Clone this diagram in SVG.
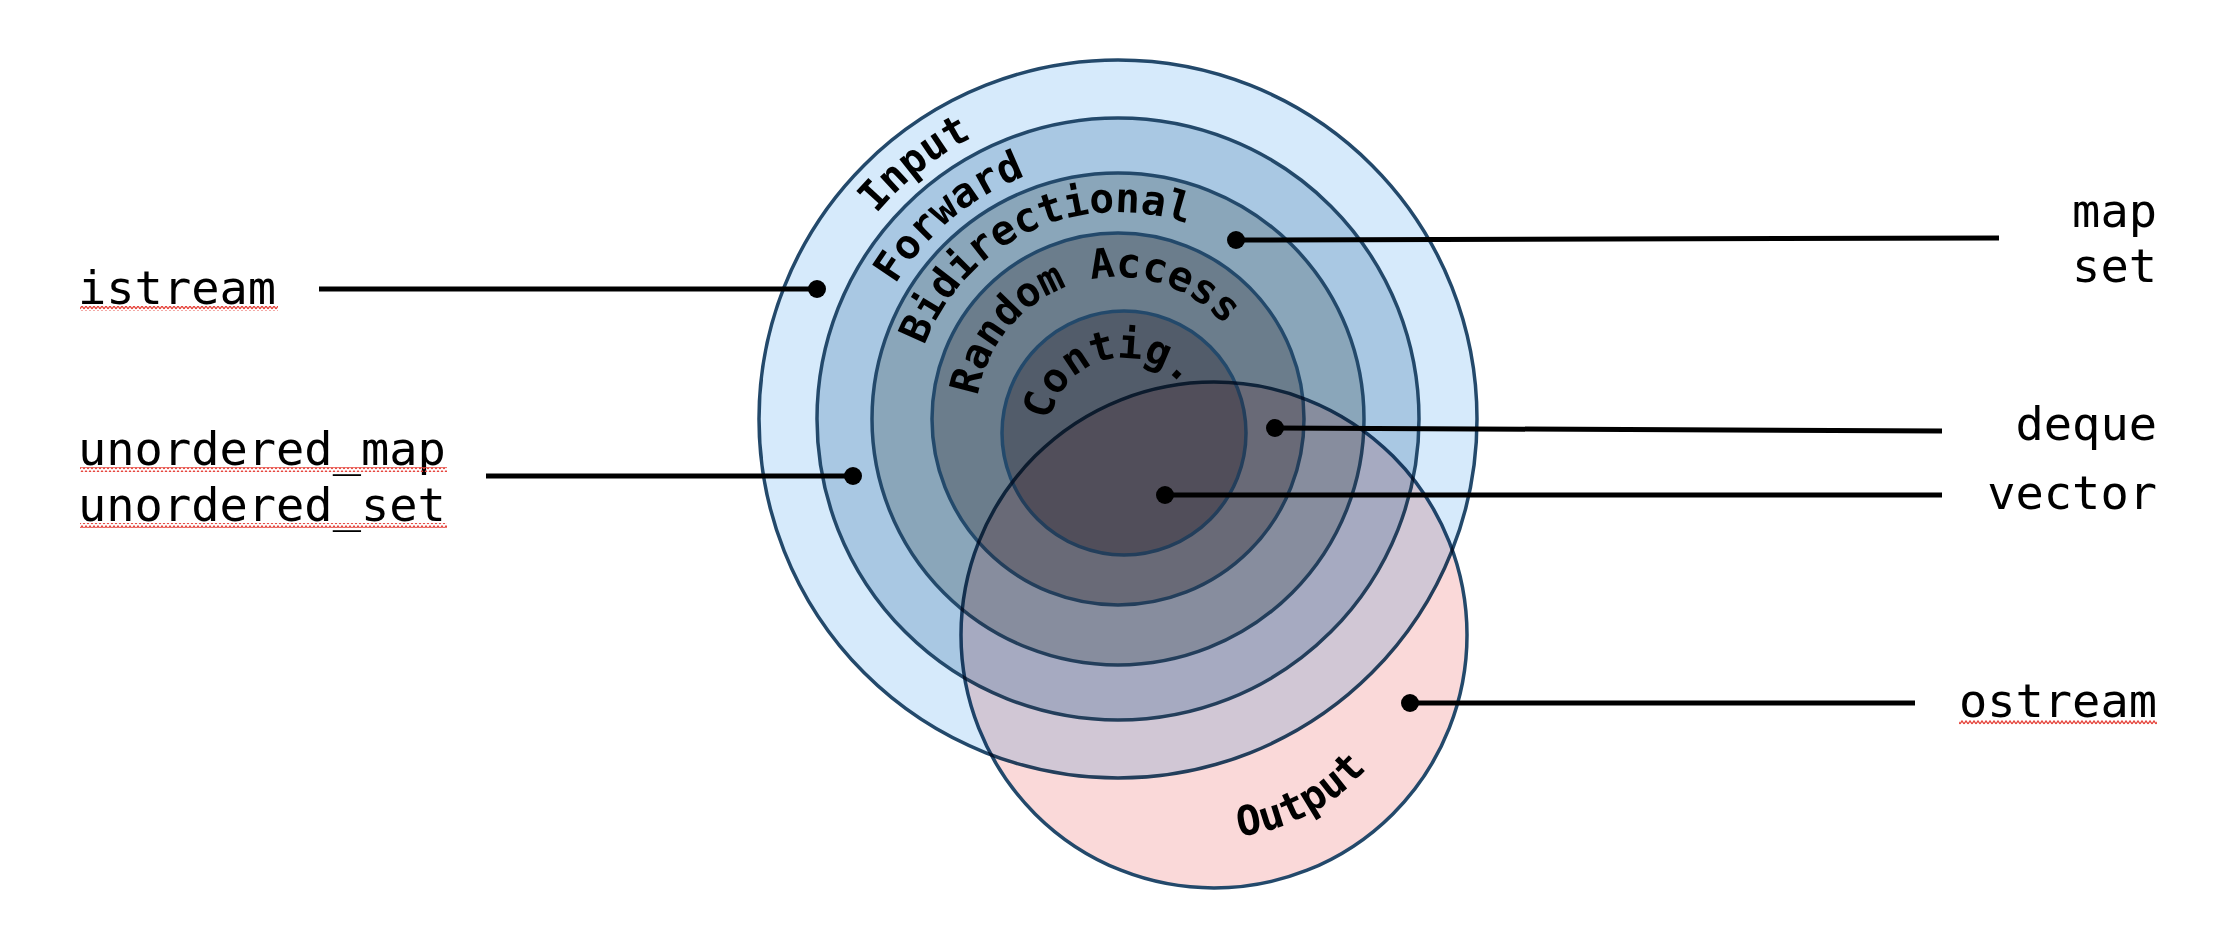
<svg xmlns="http://www.w3.org/2000/svg" width="2228" height="942" viewBox="0 0 2228 942">
<style>
.ring{stroke:#23496B;stroke-width:3.5}
.arc{font-family:"DejaVu Sans Mono","Liberation Mono",monospace;font-weight:bold;font-size:41px;fill:#000}
.lbl{font-family:"DejaVu Sans Mono","Liberation Mono",monospace;font-size:47px;fill:#000}
.r{text-anchor:end}
.ln{stroke:#000;stroke-width:5;fill:none}
.dot{fill:#000}
</style>
<defs>
<pattern id="squig" patternUnits="userSpaceOnUse" x="0" y="0" width="4" height="5">
<path d="M0,4 L2,1 L4,4" fill="none" stroke="#E5423A" stroke-width="1.3"/>
</pattern>
<path id="pInput" d="M801,419 A317,317 0 1 1 1435,419 A317,317 0 1 1 801,419"/>
<path id="pForward" d="M858,419 A260,260 0 1 1 1378,419 A260,260 0 1 1 858,419"/>
<path id="pBidi" d="M911,419 A207,207 0 1 1 1325,419 A207,207 0 1 1 911,419"/>
<path id="pRA" d="M976,419 A142,142 0 1 1 1260,419 A142,142 0 1 1 976,419"/>
<path id="pContig" d="M1049,433 A75,75 0 1 1 1199,433 A75,75 0 1 1 1049,433"/>
<path id="pOutput" d="M1214,838 A203,203 0 1 0 1214,432 A203,203 0 1 0 1214,838"/>
</defs>
<rect x="0" y="0" width="2228" height="942" fill="#fff"/>
<g id="input">
<circle class="ring" cx="1118" cy="419" r="359" fill="#D6EAFB"/>
<text class="arc"><textPath href="#pInput" startOffset="223">Input</textPath></text>
</g>
<g id="forward">
<circle class="ring" cx="1118" cy="419" r="301" fill="#A9C8E3"/>
<text class="arc"><textPath href="#pForward" startOffset="141">Forward</textPath></text>
</g>
<g id="bidirectional">
<circle class="ring" cx="1118" cy="419" r="246" fill="#8AA6BA"/>
<text class="arc"><textPath href="#pBidi" startOffset="75">Bidirectional</textPath></text>
</g>
<g id="random-access">
<circle class="ring" cx="1118" cy="419" r="186" fill="#6B7D8C"/>
<text class="arc"><textPath href="#pRA" startOffset="23">Random Access</textPath></text>
</g>
<g id="contig">
<circle class="ring" cx="1124" cy="433" r="122" fill="#525C6A"/>
<text class="arc"><textPath href="#pContig" startOffset="12">Contig.</textPath></text>
</g>
<g id="output">
<circle class="ring" cx="1214" cy="635" r="253" fill="#FAD9D9" style="mix-blend-mode:multiply"/>
<text class="arc"><textPath href="#pOutput" startOffset="25">Output</textPath></text>
</g>
<g id="connectors">
<line class="ln" x1="319" y1="289" x2="817" y2="289"/>
<circle class="dot" cx="817" cy="289" r="9"/>
<line class="ln" x1="486" y1="476" x2="853" y2="476"/>
<circle class="dot" cx="853" cy="476" r="9"/>
<line class="ln" x1="1236" y1="240" x2="1999" y2="238"/>
<circle class="dot" cx="1236" cy="240" r="9"/>
<line class="ln" x1="1275" y1="428" x2="1942" y2="431"/>
<circle class="dot" cx="1275" cy="428" r="9"/>
<line class="ln" x1="1165" y1="495" x2="1942" y2="495"/>
<circle class="dot" cx="1165" cy="495" r="9"/>
<line class="ln" x1="1410" y1="703" x2="1915" y2="703"/>
<circle class="dot" cx="1410" cy="703" r="9"/>
</g>
<g id="label-istream">
<text class="lbl" x="78" y="304">istream</text>
<rect x="80" y="306" width="198" height="5" fill="url(#squig)"/>
</g>
<g id="label-unordered">
<text class="lbl" x="78" y="465">unordered_map</text>
<text class="lbl" x="78" y="521">unordered_set</text>
<rect x="80" y="467" width="367" height="5" fill="url(#squig)"/>
<rect x="80" y="523" width="367" height="5" fill="url(#squig)"/>
</g>
<g id="label-mapset">
<text class="lbl r" x="2157" y="227">map</text>
<text class="lbl r" x="2157" y="282">set</text>
</g>
<g id="label-deque">
<text class="lbl r" x="2157" y="440">deque</text>
</g>
<g id="label-vector">
<text class="lbl r" x="2157" y="509">vector</text>
</g>
<g id="label-ostream">
<text class="lbl r" x="2157" y="717">ostream</text>
<rect x="1959" y="720" width="198" height="5" fill="url(#squig)"/>
</g>
</svg>
